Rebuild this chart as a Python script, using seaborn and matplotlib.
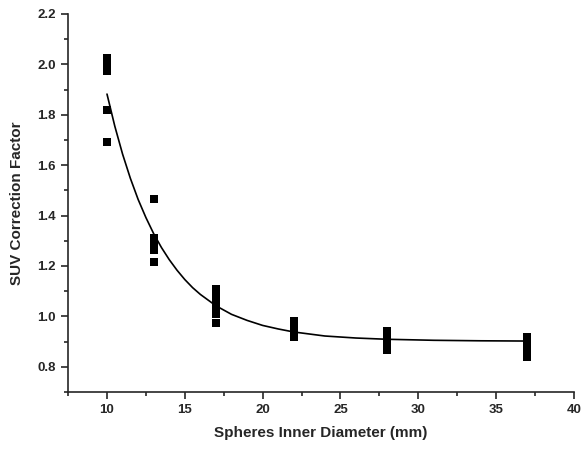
import pandas as pd
import matplotlib.pyplot as plt
import seaborn as sns
from matplotlib.ticker import MultipleLocator

# measured points (sphere inner diameter in mm, correction factor)
diameter = [10, 10, 10, 10, 10,
            13, 13, 13, 13, 13,
            17, 17, 17, 17, 17, 17,
            22, 22, 22, 22, 22,
            28, 28, 28, 28,
            37, 37, 37, 37, 37]
factor = [2.025, 2.0, 1.975, 1.82, 1.69,
          1.465, 1.31, 1.29, 1.265, 1.215,
          1.11, 1.09, 1.06, 1.03, 1.01, 0.975,
          0.98, 0.965, 0.95, 0.935, 0.92,
          0.94, 0.92, 0.90, 0.865,
          0.92, 0.90, 0.88, 0.86, 0.84]

# fitted curve
fit_x = [10, 10.5, 11, 11.5, 12, 12.5, 13, 13.5, 14, 14.5, 15, 15.5, 16, 17, 18,
         19, 20, 21, 22, 24, 26, 28, 31, 34, 37]
fit_y = [1.882, 1.755, 1.644, 1.548, 1.464, 1.392, 1.328, 1.273, 1.225, 1.183,
         1.146, 1.114, 1.087, 1.042, 1.008, 0.984, 0.964, 0.950, 0.938, 0.922,
         0.914, 0.909, 0.905, 0.903, 0.902]

pts = pd.DataFrame({'Diameter': diameter, 'Factor': factor})
fit = pd.DataFrame({'Diameter': fit_x, 'Factor': fit_y})

sns.set_style("ticks")
plt.rcParams['font.family'] = ['Liberation Sans', 'DejaVu Sans']

fig, ax = plt.subplots(figsize=(5.82, 4.5), dpi=100)
fig.subplots_adjust(left=0.117, right=0.986, top=0.969, bottom=0.129)

sns.lineplot(data=fit, x='Diameter', y='Factor', color='black', linewidth=1.2, ax=ax)
sns.scatterplot(data=pts, x='Diameter', y='Factor', marker='s', s=26, color='black',
                edgecolor='black', linewidth=0, ax=ax, zorder=3)

ax.set_xlim(7.5, 40)
ax.set_ylim(0.7, 2.2)
ax.xaxis.set_minor_locator(MultipleLocator(2.5))
ax.yaxis.set_minor_locator(MultipleLocator(0.1))
ax.set_yticks([0.8, 1.0, 1.2, 1.4, 1.6, 1.8, 2.0, 2.2])
ax.set_yticklabels(['0.8', '1.0', '1.2', '1.4', '1.6', '1.8', '2.0', '2.2'])
ax.set_xticks([10, 15, 20, 25, 30, 35, 40])

ax.tick_params(which='major', length=5, width=1.2, labelsize=9.5, direction='out', pad=4)
ax.tick_params(which='minor', length=3, width=1.2, direction='out')
for lab in ax.get_xticklabels() + ax.get_yticklabels():
    lab.set_fontweight('bold')

for side in ['top', 'right']:
    ax.spines[side].set_visible(False)
for side in ['left', 'bottom']:
    ax.spines[side].set_linewidth(1.2)

ax.set_xlabel('Spheres Inner Diameter (mm)', fontsize=11, fontweight='bold', labelpad=7)
ax.set_ylabel('SUV Correction Factor', fontsize=11, fontweight='bold', labelpad=9)

plt.savefig('out.png', dpi=100)
plt.close()
